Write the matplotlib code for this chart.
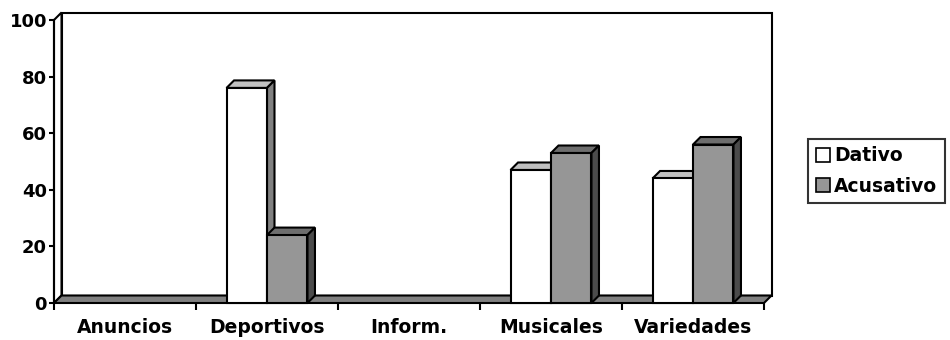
import matplotlib
matplotlib.use("Agg")
import matplotlib.pyplot as plt
from matplotlib.patches import Polygon, Patch
from matplotlib.transforms import IdentityTransform
import numpy as np

categories = ["Anuncios", "Deportivos", "Inform.", "Musicales", "Variedades"]
dativo = [0, 76, 0, 47, 44]
acusativo = [0, 24, 0, 53, 56]
series_names = ["Dativo", "Acusativo"]
y_ticks = [0, 20, 40, 60, 80, 100]

# face colours: (front, top, side)
dativo_faces = ("#ffffff", "#c0c0c0", "#808080")
acusativo_faces = ("#969696", "#6e6e6e", "#4b4b4b")
floor_color = "#808080"

plt.rcParams["font.family"] = ["DejaVu Sans"]
plt.rcParams["font.weight"] = "bold"

W, H, DPI = 950, 340, 100
fig = plt.figure(figsize=(W / DPI, H / DPI), dpi=DPI)
ax = fig.add_axes([54 / W, 1 - 303 / H, 710 / W, 283 / H])
n = len(categories)
ax.set_xlim(-0.5, n - 0.5)
ax.set_ylim(0, 100)
for s in ax.spines.values():
    s.set_visible(False)
ax.patch.set_alpha(0)

depth = 7.5   # projected depth of the 3D box, in pixels
lw = 1.5
ident = IdentityTransform()


def disp(x, y):
    return ax.transData.transform((x, y))


def poly(points, fc, z):
    p = Polygon(points, closed=True, facecolor=fc, edgecolor="black",
                linewidth=lw, transform=ident, zorder=z, clip_on=False,
                joinstyle="miter")
    ax.add_patch(p)


off = np.array([depth, depth])
x0, x1 = -0.5, n - 0.5
bl, br = disp(x0, 0), disp(x1, 0)
tl, tr = disp(x0, 100), disp(x1, 100)

# back wall, left wall and floor of the 3D box
poly([bl + off, br + off, tr + off, tl + off], "white", 0.1)
poly([bl, bl + off, tl + off, tl], "white", 0.2)
poly([bl, br, br + off, bl + off], floor_color, 0.3)

bar_w = 0.285
z = 1.0
for i in range(n):
    for k, (vals, faces) in enumerate(((dativo, dativo_faces), (acusativo, acusativo_faces))):
        v = vals[i]
        if v <= 0:
            continue
        left = i - bar_w + k * bar_w
        right = left + bar_w
        p_bl, p_br = disp(left, 0), disp(right, 0)
        p_tl, p_tr = disp(left, v), disp(right, v)
        # top and side faces
        poly([p_tl, p_tr, p_tr + off, p_tl + off], faces[1], z)
        poly([p_br, p_br + off, p_tr + off, p_tr], faces[2], z)
        # front face
        ax.bar(left, v, width=bar_w, align="edge", color=faces[0],
               edgecolor="black", linewidth=lw, zorder=z + 0.5, clip_on=False)
        z += 1

ax.set_yticks(y_ticks)
ax.set_yticklabels([str(t) for t in y_ticks], fontsize=13, fontweight="bold")
ax.set_xticks(np.arange(-0.5, n, 1.0))
ax.set_xticklabels([])
ax.set_xticks(np.arange(n), minor=True)
ax.set_xticklabels(categories, minor=True, fontsize=13.5, fontweight="bold")
ax.tick_params(axis="y", length=3.5, width=1.5, pad=1.5, direction="out")
ax.tick_params(axis="x", which="major", length=5, width=1.5, direction="out")
ax.tick_params(axis="x", which="minor", length=0, pad=11)

# front edge of the value axis
ax.plot([x0, x0], [0, 100], color="black", linewidth=lw, zorder=50, clip_on=False)

handles = [Patch(facecolor=dativo_faces[0], edgecolor="black", linewidth=1.2),
           Patch(facecolor=acusativo_faces[0], edgecolor="black", linewidth=1.2)]
leg = fig.legend(handles, series_names, loc="center left",
                 bbox_to_anchor=(808 / W, 1 - 171 / H), frameon=True,
                 fancybox=False, edgecolor="black", fontsize=13.5,
                 handlelength=0.75, handleheight=0.75, handletextpad=0.25,
                 borderpad=0.4, labelspacing=0.6, borderaxespad=0)
leg.get_frame().set_linewidth(1.5)
for t in leg.get_texts():
    t.set_fontweight("bold")

fig.savefig("out.png", dpi=DPI)
